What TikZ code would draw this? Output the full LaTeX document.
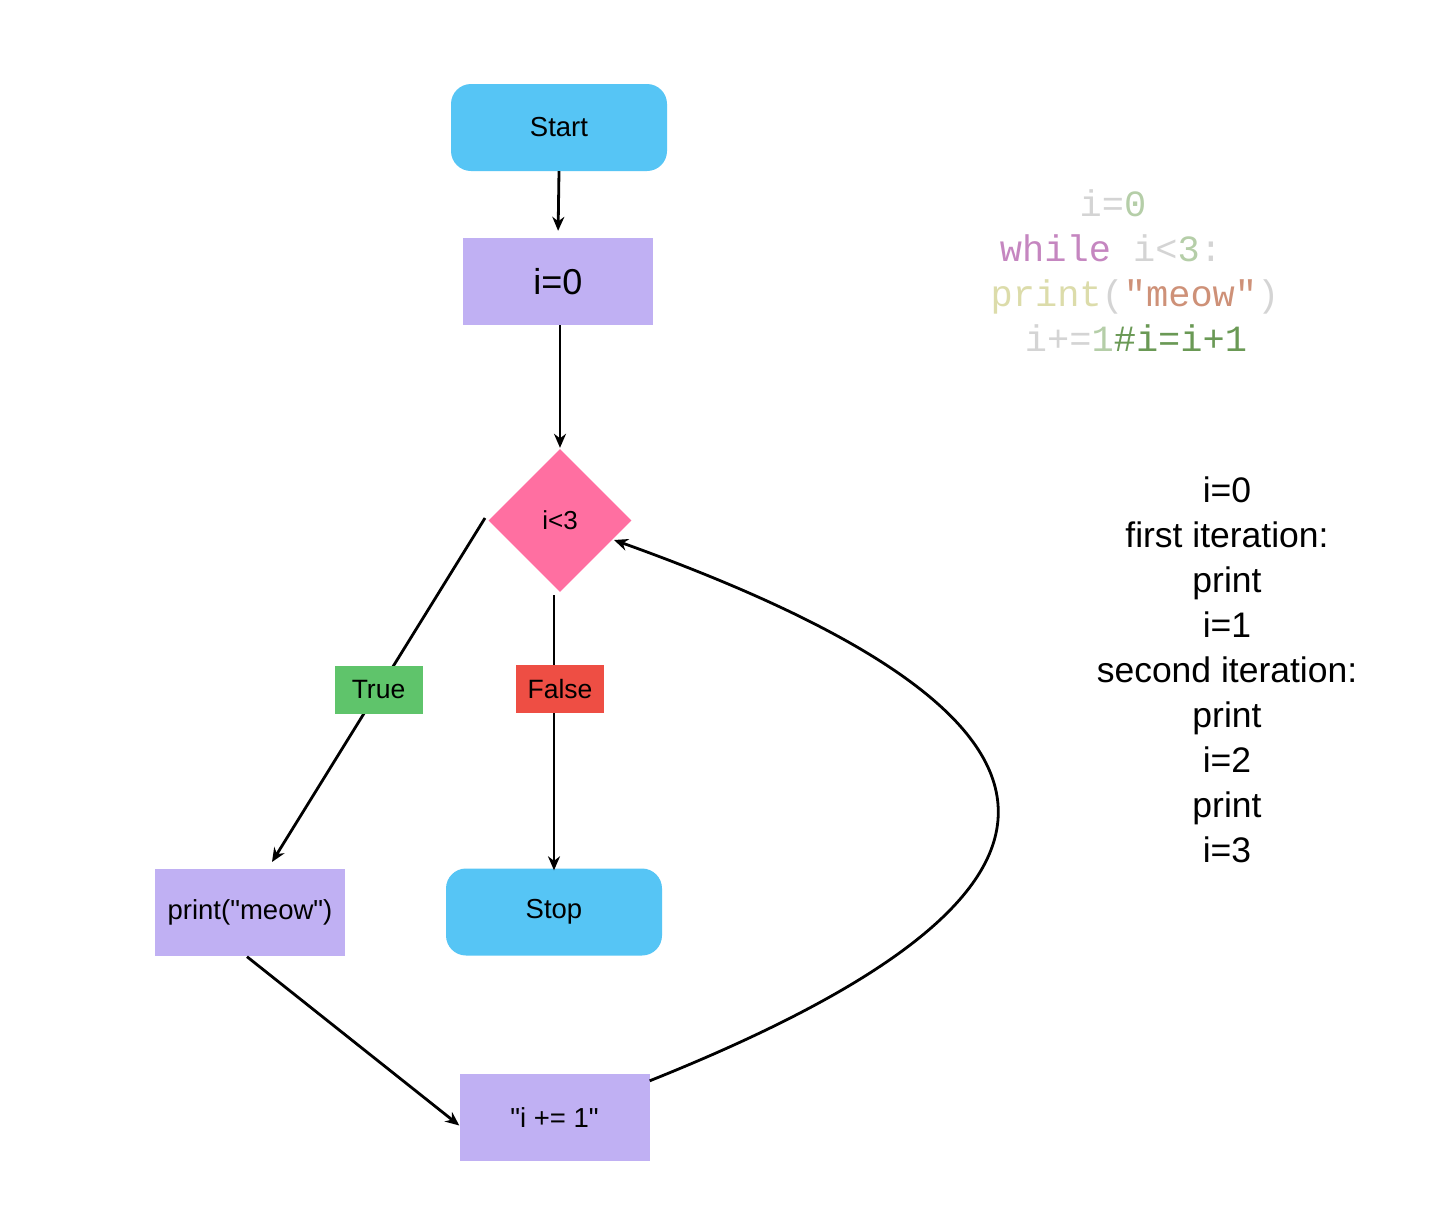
\documentclass[tikz,border=0pt]{standalone}
\usepackage{fontspec}
\setmainfont{Liberation Sans}
\newfontfamily\codefont{Liberation Mono}
\usetikzlibrary{shapes.geometric,arrows.meta,calc}
\definecolor{cblue}{HTML}{56C5F5}
\definecolor{cpurple}{HTML}{C0B0F3}
\definecolor{cpink}{HTML}{FF6FA1}
\definecolor{cgreen}{HTML}{5FC46B}
\definecolor{cred}{HTML}{EE4E44}
\definecolor{kgray}{HTML}{D4D4D4}
\definecolor{knum}{HTML}{B5CEA8}
\definecolor{kkey}{HTML}{C586C0}
\definecolor{kfun}{HTML}{DCDCAA}
\definecolor{kstr}{HTML}{CE9178}
\definecolor{kcom}{HTML}{6A9955}
\tikzset{
  terminal/.style={fill=cblue, rounded corners=20pt, minimum width=216pt, minimum height=87pt, inner sep=0pt, font=\fontsize{27.5}{32}\selectfont},
  process/.style={fill=cpurple, minimum width=190pt, minimum height=87pt, inner sep=0pt, font=\fontsize{27.5}{32}\selectfont},
  decision/.style={diamond, fill=cpink, minimum width=143pt, minimum height=143pt, inner sep=0pt, font=\fontsize{26}{31}\selectfont},
  lbl/.style={minimum width=88pt, minimum height=48pt, inner sep=0pt, font=\fontsize{26.5}{31}\selectfont},
  conn/.style={line width=2.8pt, -{Stealth[length=14pt,width=12pt]}},
  codeline/.style={anchor=base, inner sep=0pt, font=\codefont\fontsize{37}{45}\selectfont},
  noteline/.style={anchor=base, inner sep=0pt, font=\fontsize{35.5}{45}\selectfont},
}
\begin{document}
\begin{tikzpicture}[x=1pt,y=-1pt]
\useasboundingbox[fill=white] (0,0) rectangle (1452,1216);
\node[terminal] (start) at (559,127.5) {Start};
\node[process, font=\fontsize{36}{40}\selectfont] (i0) at (558,281.5) {i=0};
\node[decision] (d) at (560,520.5) {i<3};
\node[process] (pr) at (250,912) {print(\textquotedbl meow\textquotedbl)};
\node[terminal] (stop) at (554,912) {Stop};
\node[process] (inc) at (554.5,1117.5) {\textquotedbl i += 1\textquotedbl};
\coordinate (prin) at (272,862);
\coordinate (dleft) at (485,518);
\coordinate (dback) at (614,540);

\draw[conn, shorten >=7pt] (start.south) -- (i0.north);
\draw[conn, shorten >=1pt] (i0.south -| d.north) -- (d.north);
\draw[conn] (dleft) -- node[lbl, fill=cgreen, pos=0.5] (tl) {True} (prin);
\draw[conn, shorten >=-2pt] ($(d.south -| stop.north)+(0,3)$) -- node[lbl, fill=cred, pos=0.343, xshift=6pt] (fl) {False} (stop.north);
\draw[conn] ($(pr.south)+(-3,1)$) -- ($(inc.west)+(0,8)$);
\draw[conn] ($(inc.north east)+(0,7)$) .. controls (1119,893) and (1119,721) .. (dback);

\node[codeline] (c1) at (1113,216) {\textcolor{kgray}{i=}\textcolor{knum}{0}};
\node[codeline] (c2) at (1111,261) {\textcolor{kkey}{while} \textcolor{kgray}{i<}\textcolor{knum}{3}\textcolor{kgray}{:}};
\node[codeline] (c3) at (1135,306) {\textcolor{kfun}{print}\textcolor{kgray}{(}\textcolor{kstr}{"meow"}\textcolor{kgray}{)}};
\node[codeline] (c4) at (1136,351) {\textcolor{kgray}{i+=}\textcolor{knum}{1}\textcolor{kcom}{\#i=i+1}};

\foreach \t [count=\k] in {i=0,first iteration:,print,i=1,second iteration:,print,i=2,print,i=3}
  \node[noteline] (n\k) at (1227,{490+12.5+(\k-1)*45}) {\t};
\end{tikzpicture}
\end{document}
